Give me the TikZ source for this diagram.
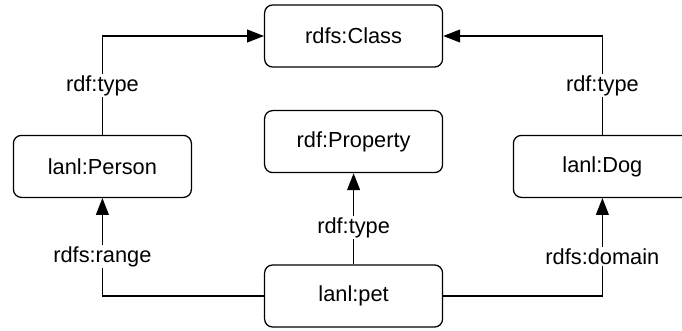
\documentclass[tikz,border=0pt]{standalone}
\usepackage{fontspec}
\setmainfont{Liberation Sans}
\usepackage{tikz}
\usetikzlibrary{positioning,shapes,arrows.meta}

\begin{document}
\begin{tikzpicture}[every node/.style={font=\fontsize{15.5}{18}\selectfont},
  term/.style={draw, rectangle, rounded corners=0.2cm, line width=0.9pt, minimum width=4.45cm, minimum height=1.55cm},
  lbl/.style={fill=white, inner sep=1pt},
  rel/.style={line width=0.9pt, -{Triangle[length=0.42cm, width=0.32cm]}}]
\useasboundingbox (0,0) rectangle (17.05,8.25);

% Classes
\node[term] (class) at (8.84,7.35) {rdfs:Class};
\node[term] (property) at (8.84,4.71) {rdf:Property};

% Resources
\node[term] (person) at (2.56,4.09) {lanl:Person};
\node[term] (dog) at (15.06,4.09) {lanl:Dog};
\node[term] (pet) at (8.84,0.85) {lanl:pet};

\draw[rel] (person.north) |- node[lbl, pos=0.25] {rdf:type} (class.west);
\draw[rel] (dog.north) |- node[lbl, pos=0.25] {rdf:type} (class.east);
\draw[rel] (pet.north) -- node[lbl, pos=0.4] {rdf:type} (property.south);
\draw[rel] (pet.west) -| node[lbl, pos=0.7] {rdfs:range} (person.south);
\draw[rel] (pet.east) -| node[lbl, pos=0.7] {rdfs:domain} (dog.south);
\end{tikzpicture}
\end{document}
